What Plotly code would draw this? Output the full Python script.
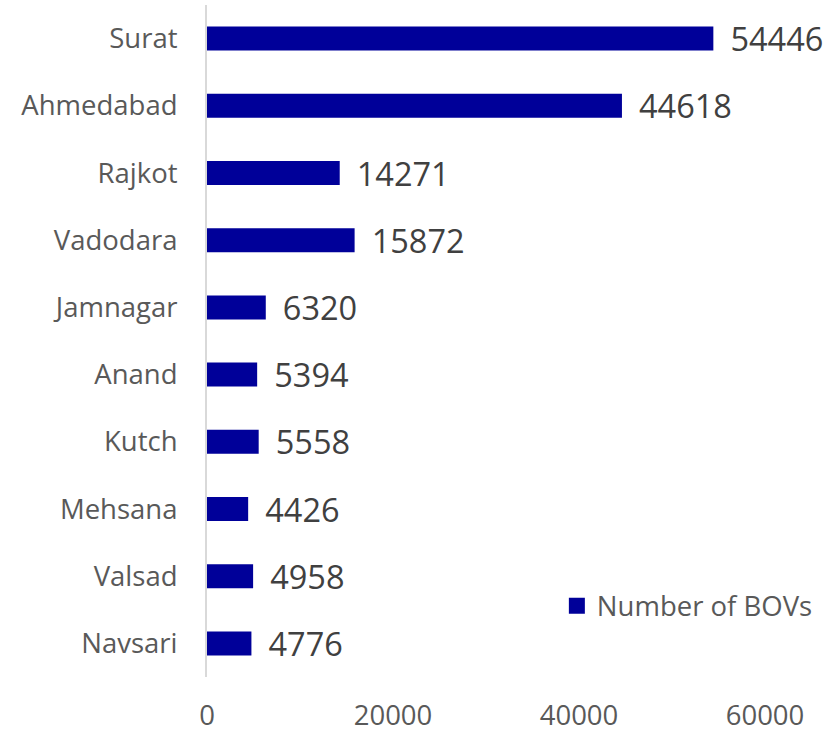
import plotly.graph_objects as go

cities = ["Surat", "Ahmedabad", "Rajkot", "Vadodara", "Jamnagar", "Anand",
          "Kutch", "Mehsana", "Valsad", "Navsari"]
bovs = [54446, 44618, 14271, 15872, 6320, 5394, 5558, 4426, 4958, 4776]
series_name = "Number of BOVs"
x_ticks = [0, 20000, 40000, 60000]

FONT = "Open Sans, Lato, sans-serif"
BAR_COLOR = "#000099"

fig = go.Figure()
fig.add_trace(go.Bar(
    y=cities,
    x=bovs,
    orientation="h",
    name=series_name,
    marker=dict(color=BAR_COLOR, line=dict(width=0)),
    text=["\u2009\u2009\u200a" + str(v) for v in bovs],
    textposition="outside",
    textfont=dict(family=FONT, size=32.5, color="#404040"),
    cliponaxis=False,
    constraintext="none",
    showlegend=False,
))
# legend entry with a larger square swatch
fig.add_trace(go.Scatter(
    x=[None], y=[None], mode="markers", name=series_name,
    marker=dict(symbol="square", size=16, color=BAR_COLOR),
    showlegend=True, hoverinfo="skip",
))

fig.update_layout(
    width=835, height=732,
    margin=dict(l=207, r=70, t=5, b=55, autoexpand=False),
    plot_bgcolor="white",
    paper_bgcolor="white",
    bargap=0.643,
    font=dict(family=FONT, color="#595959"),
    legend=dict(
        x=0.627, y=0.106, xanchor="left", yanchor="middle",
        font=dict(family=FONT, size=27.5, color="#595959"),
        bgcolor="rgba(0,0,0,0)",
        itemsizing="trace",
    ),
    xaxis=dict(
        range=[0, 60000],
        tickvals=x_ticks,
        ticktext=[str(t) for t in x_ticks],
        showgrid=False, zeroline=False, showline=False,
        ticks="outside", ticklen=14, tickcolor="rgba(0,0,0,0)",
        tickfont=dict(family=FONT, size=27.5, color="#595959"),
        automargin=False,
    ),
    yaxis=dict(
        categoryorder="array", categoryarray=cities,
        autorange="reversed",
        showgrid=False, zeroline=False,
        showline=True, linecolor="#d9d9d9", linewidth=2,
        ticks="outside", ticklen=22, tickcolor="rgba(0,0,0,0)",
        tickfont=dict(family=FONT, size=27.5, color="#595959"),
        automargin=False,
    ),
)

fig.write_html("out.html", config={"displayModeBar": False},
               post_script="document.body.style.margin='0';")
